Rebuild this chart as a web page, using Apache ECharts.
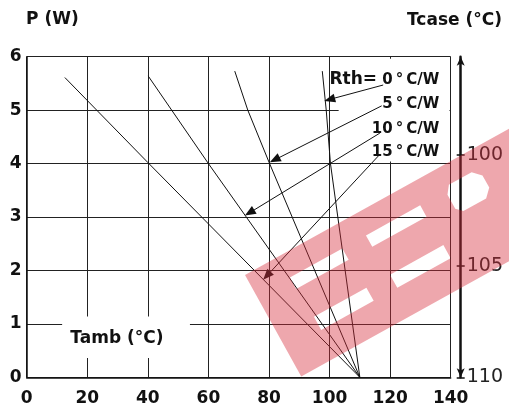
<!DOCTYPE html>
<html>
<head>
<meta charset="utf-8">
<script src="https://cdn.jsdelivr.net/npm/echarts@6/dist/echarts.min.js"></script>
<style>html,body{margin:0;padding:0;background:#fff}#c{width:509px;height:408px}</style>
</head>
<body>
<div id="c"></div>
<script>
// ---- data ----
const rth0  = [[97.6, 5.73], [98.9, 5.0], [100.3, 4.0], [110, 0]];
const rth5  = [[68.7, 5.73], [73.0, 5.0], [80.2, 4.0], [110, 0]];
const rth10 = [[40.1, 5.64], [60.0, 4.0], [110, 0]];
const rth15 = [[12.6, 5.61], [40.0, 4.02], [110, 0]];
const rthPrefix = ['Rth=', '', '', ''];
const rthLabels = ['0\u2009°\u2009C/W', '5\u2009°\u2009C/W', '10\u2009°\u2009C/W', '15\u2009°\u2009C/W'];
const labelY = [5.567, 5.109, 4.65, 4.21];
const arrowFrom = [[117.7, 5.47], [117.2, 5.08], [116.6, 4.57], [116.4, 4.16]];
const arrowTo   = [[100.0, 5.20], [81.9, 4.07], [73.6, 3.08], [79.3, 1.90]];
const tcaseTicks = [100, 105, 110];

const FONT = '"DejaVu Sans", sans-serif';
const chart = echarts.init(document.getElementById('c'));

const lineSeries = (d) => ({
  type: 'line', data: d, showSymbol: false, symbol: 'none', silent: true,
  lineStyle: { color: '#111', width: 1 }, z: 2
});

// watermark shape (local pixel coords of the rotated band), outer clockwise, holes counter-clockwise
function rectHole(x, y, w, h) { return [[x, y], [x, y + h], [x + w, y + h], [x + w, y], [x, y]]; }
const outer = [[0, 0], [430, 0], [430, 116], [0, 116], [0, 0]];
const holes = [
  rectHole(38, 24, 60, 13), rectHole(40, 70, 60, 15),
  rectHole(125, 24, 62, 13), rectHole(127, 70, 61, 15),
  [[222, 20], [216, 28], [216, 44], [222, 50], [248, 50], [256, 42], [256, 28], [248, 20], [222, 20]]
];
let wm = outer.slice();
holes.forEach(h => { wm = wm.concat(h, [[0, 0]]); });

const option = {
  animation: false,
  backgroundColor: '#fff',
  grid: { left: 26.7, right: 58.3, top: 56.7, bottom: 30.7 },
  xAxis: {
    type: 'value', min: 0, max: 140, interval: 20,
    axisLine: { lineStyle: { color: '#111', width: 1.5 } },
    axisTick: { show: false },
    axisLabel: { color: '#111', fontSize: 17, fontWeight: 'bold', fontFamily: FONT, margin: 13 },
    splitLine: { show: true, lineStyle: { color: '#222', width: 1 } }
  },
  yAxis: [{
    type: 'value', min: 0, max: 6, interval: 1,
    axisLine: { show: true, lineStyle: { color: '#111', width: 1.5 } },
    axisTick: { show: false },
    axisLabel: { color: '#111', fontSize: 17, fontWeight: 'bold', fontFamily: FONT, margin: 5 },
    splitLine: { show: true, lineStyle: { color: '#222', width: 1 } }
  }, {
    type: 'value', position: 'right', offset: 10, inverse: true, min: 95.6, max: 110,
    axisLine: { show: true, symbol: ['arrow', 'arrow'], symbolSize: [6, 9], lineStyle: { color: '#111', width: 2.5 } },
    axisTick: { show: true, customValues: tcaseTicks, length: 4, lineStyle: { color: '#111', width: 1.5 } },
    axisLabel: { customValues: tcaseTicks, color: '#222', fontSize: 19, fontFamily: FONT, margin: 6 },
    splitLine: { show: false }
  }, {
    type: 'value', position: 'right', offset: 10, inverse: true, min: 95.6, max: 110,
    axisLine: { show: false },
    axisTick: { show: true, inside: true, customValues: tcaseTicks, length: 4, lineStyle: { color: '#111', width: 1.5 } },
    axisLabel: { show: false },
    splitLine: { show: false }
  }],
  series: [
    {
      type: 'line', data: [], z: 1, silent: true,
      markArea: {
        silent: true,
        itemStyle: { color: '#fff', opacity: 1 },
        data: [
          [{ coord: [103, 4.04] }, { coord: [139.6, 5.96] }],
          [{ coord: [11.7, 0.36] }, { coord: [53.9, 1.14] }]
        ]
      }
    },
    lineSeries(rth0), lineSeries(rth5), lineSeries(rth10), lineSeries(rth15),
    {
      type: 'line', data: [], z: 3, silent: true,
      markLine: {
        silent: true, symbol: ['none', 'triangle'], symbolSize: [9, 11],
        lineStyle: { color: '#111', width: 1, type: 'solid' },
        label: { show: false },
        data: arrowFrom.map((f, i) => [{ coord: f }, { coord: arrowTo[i] }])
      },
      markPoint: {
        silent: true, symbol: 'circle', symbolSize: 0,
        data: rthLabels.map((t, i) => ({
          coord: [136.2, labelY[i]],
          label: {
            show: true, position: 'left', distance: 0,
            formatter: (rthPrefix[i] ? '{a|' + rthPrefix[i] + '}{b| }' : '') + '{b|' + t + '}',
            rich: {
              a: { color: '#111', fontSize: 17, fontWeight: 'bold', fontFamily: FONT },
              b: { color: '#111', fontSize: 15, fontWeight: 'bold', fontFamily: FONT }
            }
          }
        })).concat([{
          coord: [29.8, 0.72],
          label: { show: true, position: 'inside', formatter: 'Tamb (°C)', color: '#111',
                   fontSize: 17, fontWeight: 'bold', fontFamily: FONT }
        }])
      }
    }
  ],
  graphic: [
    { type: 'text', left: 26, top: 11, z: 10,
      style: { text: 'P (W)', font: 'bold 17px ' + FONT, fill: '#111' } },
    { type: 'text', right: 7, top: 12, z: 10,
      style: { text: 'Tcase (°C)', font: 'bold 17px ' + FONT, fill: '#111' } },
    { type: 'polygon', x: 245, y: 275, rotation: 29 * Math.PI / 180, z: 100,
      shape: { points: wm },
      style: { fill: 'rgba(215,45,60,0.42)', stroke: 'none' } }
  ]
};
chart.setOption(option);
</script>
</body>
</html>
